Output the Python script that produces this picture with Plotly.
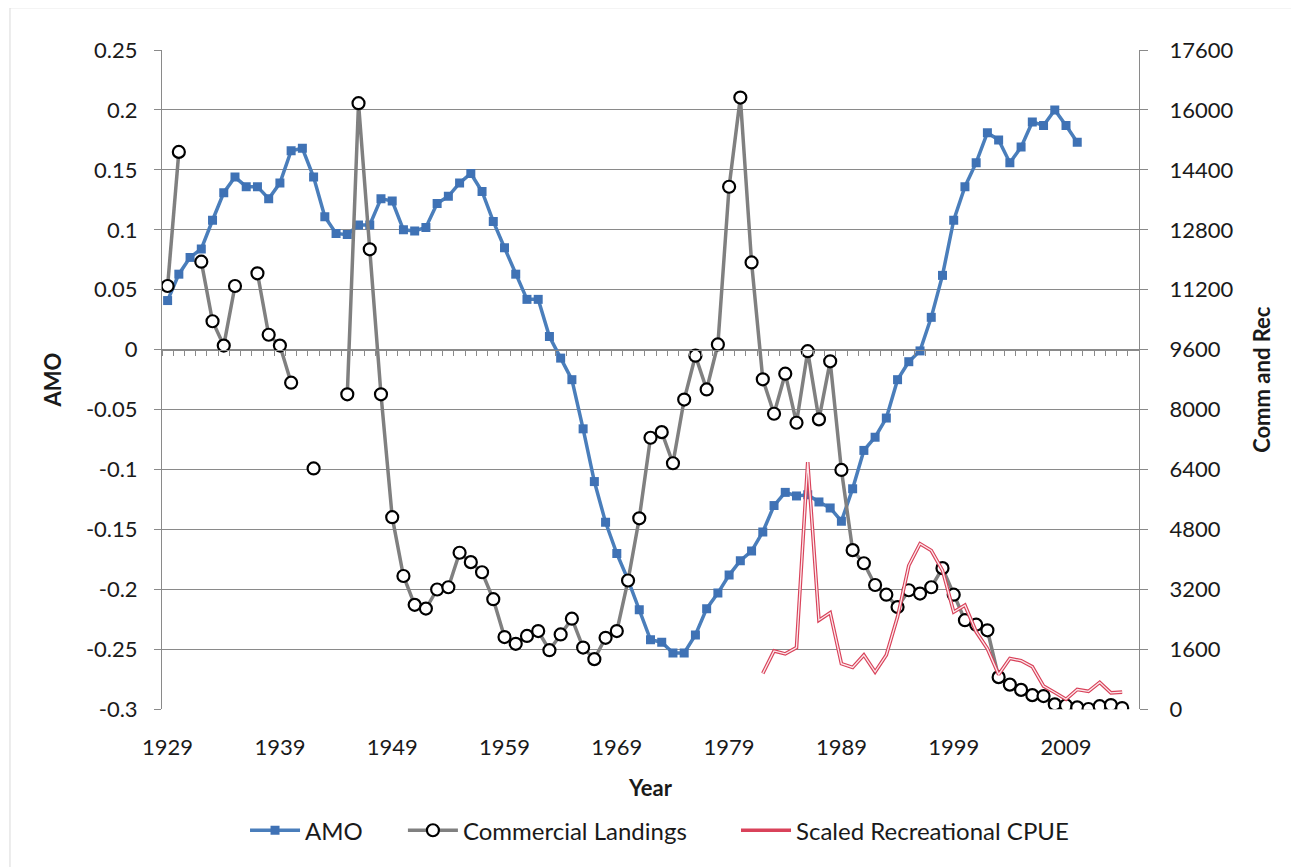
import plotly.graph_objects as go

# ---------------- data ----------------
amo_years = list(range(1929, 2011))
amo = [0.041, 0.063, 0.077, 0.084, 0.108, 0.131, 0.144, 0.136, 0.136, 0.126,
       0.139, 0.166, 0.168, 0.144, 0.111, 0.097, 0.096, 0.104, 0.104, 0.126,
       0.124, 0.100, 0.099, 0.102, 0.122, 0.128, 0.139, 0.147, 0.132, 0.107,
       0.085, 0.063, 0.042, 0.042, 0.011, -0.007, -0.025, -0.066, -0.110, -0.144,
       -0.170, -0.192, -0.217, -0.242, -0.244, -0.253, -0.253, -0.238, -0.216, -0.203,
       -0.188, -0.176, -0.168, -0.152, -0.130, -0.119, -0.122, -0.121, -0.127, -0.132,
       -0.143, -0.116, -0.084, -0.073, -0.057, -0.025, -0.010, -0.001, 0.027, 0.062,
       0.108, 0.136, 0.156, 0.181, 0.175, 0.156, 0.169, 0.190, 0.187, 0.200,
       0.187, 0.173]

comm_years = list(range(1929, 2015))
commercial = [11300, 14880, None, 11950, 10360, 9710, 11300, None, 11640, 10000,
              9710, 8720, None, 6430, None, None, 8410, 16180, 12280, 8410,
              5130, 3560, 2790, 2690, 3200, 3260, 4180, 3930, 3660, 2940,
              1930, 1750, 1960, 2090, 1580, 2000, 2420, 1650, 1340, 1910,
              2090, 3440, 5100, 7250, 7400, 6570, 8270, 9440, 8540, 9740,
              13950, 16330, 11930, 8810, 7890, 8960, 7650, 9560, 7740, 9290,
              6390, 4250, 3900, 3320, 3060, 2730, 3180, 3090, 3260, 3770,
              3060, 2380, 2260, 2110, 860, 660, 520, 380, 355, 133,
              105, 53, 10, 85, 115, 35]

rec_years = list(range(1982, 2015))
rec_cpue = [960, 1560, 1480, 1650, 6600, 2380, 2580, 1220, 1120, 1450,
            1000, 1450, 2470, 3840, 4420, 4240, 3710, 2600, 2780, 2070,
            1620, 930, 1360, 1300, 1140, 620, 450, 270, 530, 480,
            720, 440, 460]

x_range = [1928.5, 2015.5]
x_tick_years = [1929, 1939, 1949, 1959, 1969, 1979, 1989, 1999, 2009]
amo_ticks = [-0.3, -0.25, -0.2, -0.15, -0.1, -0.05, 0, 0.05, 0.1, 0.15, 0.2, 0.25]
amo_tick_text = ["-0.3", "-0.25", "-0.2", "-0.15", "-0.1", "-0.05", "0",
                 "0.05", "0.1", "0.15", "0.2", "0.25"]
rec_ticks = [0, 1600, 3200, 4800, 6400, 8000, 9600, 11200, 12800, 14400, 16000, 17600]

# ---------------- style ----------------
FONT = "Lato"
TXT = "#1a1a1a"
GRID = "#8a8a8a"
W, H = 1291, 859   # page body has an 8px margin

fig = go.Figure()

fig.add_trace(go.Scatter(
    x=amo_years, y=amo, name="AMO", mode="lines+markers",
    line=dict(color="#4a7ebb", width=3.5),
    marker=dict(symbol="square", size=9, color="#3f72b5"),
    xaxis="x", yaxis="y", legend="legend"))

fig.add_trace(go.Scatter(
    x=comm_years, y=commercial, name="Commercial Landings", mode="lines+markers",
    line=dict(color="#808080", width=3.5),
    marker=dict(symbol="circle", size=12, color="white",
                line=dict(color="black", width=2.2)),
    connectgaps=False, xaxis="x", yaxis="y2", legend="legend2"))

fig.add_trace(go.Scatter(
    x=rec_years, y=rec_cpue, name="Scaled Recreational CPUE", mode="lines",
    line=dict(color="#d9425a", width=3.6),
    xaxis="x", yaxis="y2", legend="legend3"))
fig.add_trace(go.Scatter(
    x=rec_years, y=rec_cpue, name="Scaled Recreational CPUE", mode="lines",
    line=dict(color="#fbe9ec", width=1.3), showlegend=False,
    xaxis="x", yaxis="y2"))

# dummy trace so the zero-line category axis is drawn
fig.add_trace(go.Scatter(x=[], y=[], xaxis="x2", yaxis="y", showlegend=False))

zero_pos = (0 - amo_ticks[0]) / (amo_ticks[-1] - amo_ticks[0])

leg_common = dict(orientation="h", xref="container", yref="container",
                  xanchor="left", yanchor="middle", y=0.0423,
                  font=dict(family=FONT, size=24, color=TXT), itemwidth=50,
                  bgcolor="rgba(0,0,0,0)")

fig.update_layout(
    width=W, height=H,
    margin=dict(l=154, r=160, t=42, b=156),
    paper_bgcolor="white", plot_bgcolor="white",
    font=dict(family=FONT, size=22, color=TXT),
    showlegend=True,
    legend=dict(x=0.1836, **leg_common),
    legend2=dict(x=0.3059, **leg_common),
    legend3=dict(x=0.5639, **leg_common),
    xaxis=dict(range=x_range, tickmode="array", tickvals=x_tick_years,
               ticktext=[str(v) for v in x_tick_years],
               showgrid=False, zeroline=False, showline=False,
               ticks="outside", ticklen=18, tickcolor="rgba(0,0,0,0)",
               tickfont=dict(family=FONT, size=22, color=TXT),
               title=dict(text="<b>Year</b>", standoff=21,
                          font=dict(family=FONT, size=22, color=TXT))),
    xaxis2=dict(range=x_range, overlaying="x", anchor="free",
                position=zero_pos, side="bottom",
                tickmode="linear", tick0=x_range[0], dtick=1,
                ticks="outside", ticklen=5, tickwidth=1, tickcolor=GRID,
                showticklabels=False, showgrid=False, zeroline=False,
                showline=True, linecolor=GRID, linewidth=1),
    yaxis=dict(range=[amo_ticks[0], amo_ticks[-1]], tickmode="array",
               tickvals=amo_ticks, ticktext=amo_tick_text,
               showgrid=True, gridcolor=GRID, gridwidth=1,
               zeroline=False, showline=True, linecolor=GRID, linewidth=1,
               ticks="outside", ticklen=7, tickcolor=GRID,
               ticklabelstandoff=12,
               tickfont=dict(family=FONT, size=22, color=TXT),
               title=dict(text="<b>AMO</b>", standoff=18,
                          font=dict(family=FONT, size=22, color=TXT))),
    yaxis2=dict(range=[rec_ticks[0], rec_ticks[-1]], tickmode="array",
                tickvals=rec_ticks, ticktext=[str(v) for v in rec_ticks],
                overlaying="y", side="right", anchor="x",
                showgrid=False, zeroline=False, showline=True,
                linecolor=GRID, linewidth=1,
                ticks="outside", ticklen=8, tickcolor=GRID,
                ticklabelstandoff=17,
                tickfont=dict(family=FONT, size=22, color=TXT),
                title=dict(text="<b>Comm and Rec</b>", standoff=22,
                           font=dict(family=FONT, size=22, color=TXT))),
)

# light chart-area border
fig.add_shape(type="rect", xref="paper", yref="paper",
              x0=-0.1556, x1=1.1607, y0=-0.30, y1=1.064,
              line=dict(color="#d9d9d9", width=1), fillcolor="rgba(0,0,0,0)",
              layer="below")

fig.write_html("out.html")
